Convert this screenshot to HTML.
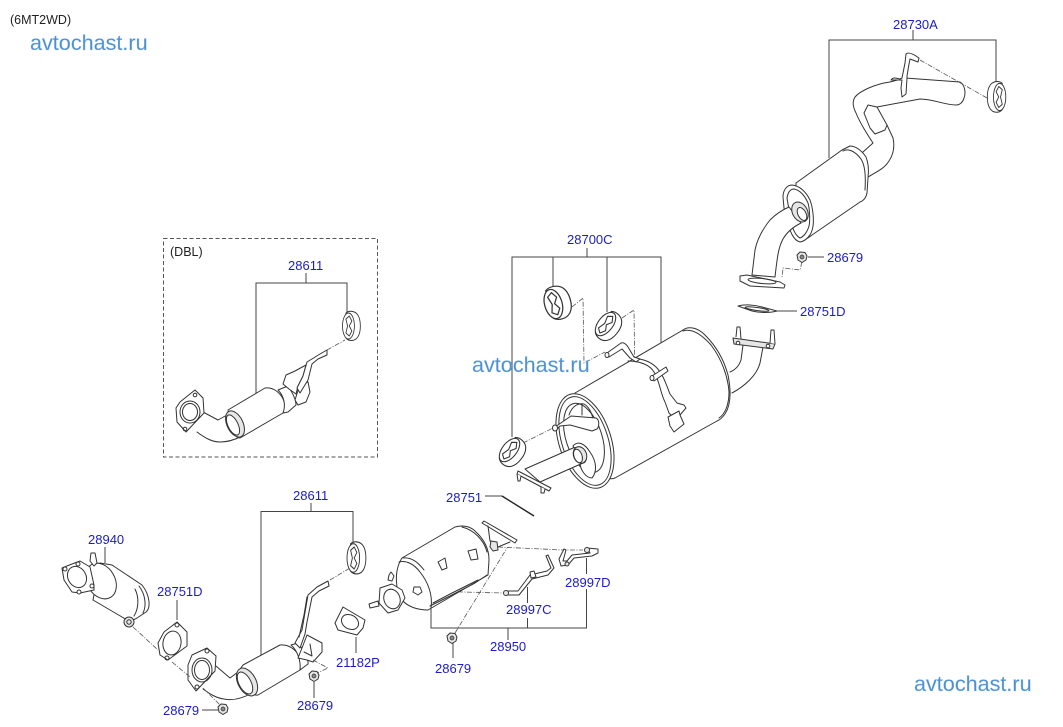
<!DOCTYPE html>
<html><head><meta charset="utf-8">
<style>
html,body{margin:0;padding:0;background:#fff}
svg{display:block;filter:blur(.35px)}
.l{fill:none;stroke:#333;stroke-width:1;stroke-linejoin:round;stroke-linecap:round}
.f{fill:#fff;stroke:#333;stroke-width:1;stroke-linejoin:round}
.n{fill:#fff;stroke:none}
.g{fill:#e6e6e6;stroke:#333;stroke-width:1;stroke-linejoin:round}
.d{fill:none;stroke:#555;stroke-width:.8;stroke-dasharray:5 1.500 1 1.500}
.r{fill:none;stroke:#444;stroke-width:1}
text{font-family:"Liberation Sans",sans-serif;font-size:13px;fill:#1c1cc4}
.k{fill:#222;font-size:12.500px}
.w{font-size:21.600px;fill:#4a8fd2;stroke:#9cc4e8;stroke-width:.3}
</style></head><body>
<svg width="1063" height="727" viewBox="0 0 1063 727" xmlns="http://www.w3.org/2000/svg">
<defs>
<g id="nut"><path class="g" d="M-5-2-2-5 3-4.500 5-1 4 3 0 5.500-4 3Z"/><circle r="2" fill="#888" stroke="#333" stroke-width=".7"/></g>
<g id="rub"><path class="f" d="M-6-13C-2-16 5-15 8-11 12-6 12 6 8 11 4 16-3 15-6 12Z"/><ellipse class="f" cx="-3" rx="7" ry="13"/><path class="l" d="M-6-7-2-10 1-5-2 0 1 5-2 10-6 7-4 0Z"/></g>
</defs>

<text class="k" x="10" y="24">(6MT2WD)</text>
<text class="w" x="30" y="50">avtochast.ru</text>

<!-- 28730A assembly -->
<text x="893" y="29">28730A</text>
<path class="r" d="M913 30V40M829 158V40H996V83"/>
<path class="d" d="M920 60 987 98"/>
<path class="l" d="M890 82C875 84 860 91 855 97 852 102 853 107 856 113 860 123 867 134 873 143L863 152"/>
<path class="l" d="M890 82 905 78 960 82C965 85 966 93 964 98 963 102 960 105 956 105 945 105 933 99 920 99L877 107"/>
<path class="f" d="M864 113 868 105 877 107 887 125 885 130 875 134 870 128Z"/>
<path class="l" d="M887 125 893 138C895 147 893 155 889 161 884 169 876 172 868 177"/>
<path class="f" d="M891 80C893 77 896 78 900 79L902 78 905 63 906 54C908 52 912 53 919 58L918 62 910 59 909 64 907 76 907 78 906 94 902 97 901 88 902 80Z"/>
<path class="f" d="M796 183 842 150 850 146C856 146 862 151 866 157 868 162 869 170 868 178L867 193C866 198 863 201 860 202L812 235C806 240 800 242 796 240Z"/>
<path class="l" d="M843 151C848 148 855 151 861 159 865 165 866 175 865 190"/>
<path class="f" d="M783 197C783 190 787 185 792 185 800 186 806 192 810 200 813 208 814 220 813 226 812 235 806 241 800 242 793 240 790 231 788 223L784 208Z"/>
<path class="f" d="M787 198C788 192 790 189 794 189 800 190 805 196 808 203 810 210 810 222 809 226 807 233 803 237 800 238 796 236 793 230 791 222Z"/>
<path class="f" d="M752 275 755 250C757 240 762 230 770 220 776 214 782 210 789 207L801 223C793 227 787 232 783 239 778 248 777 260 775 277Z"/>
<ellipse class="g" cx="800" cy="212" rx="7.500" ry="10.500" transform="rotate(-28 800 212)"/>
<ellipse class="f" cx="802" cy="214" rx="4" ry="7" transform="rotate(-28 802 214)"/>
<path class="f" d="M740 276 747 275 780 282 785 285 784 288 750 286 740 281Z"/>
<ellipse class="l" cx="762" cy="281" rx="14" ry="2.500" transform="rotate(6 762 281)"/>
<path class="d" d="M802 262 800 270 783 268 782 278"/>
<use href="#nut" x="802" y="257"/>
<path class="r" d="M808 257H824"/>
<text x="827" y="262">28679</text>
<path class="f" d="M738 306C745 304 755 305 762 307L777 311C770 313 760 313 752 311Z"/>
<ellipse class="l" cx="757" cy="309" rx="12" ry="1.500" transform="rotate(8 757 309)"/>
<path class="r" d="M777 311H797"/>
<text x="800" y="316">28751D</text>
<use href="#rub" transform="translate(997 97) scale(-.88 1.050)"/>

<!-- muffler 28700C -->
<text x="567" y="244">28700C</text>
<path class="r" d="M587 248V257M512 437V257H661V343M553 257V287M607 257V312"/>
<path class="d" d="M572 307 583 298 584 363 605 352M622 318 634 310 635 385 652 377M523 443 555 427"/>
<path class="f" d="M575 393 683 330C688 326 697 327 705 335 716 346 724 360 728 375 731 390 731 405 725 414 722 418 720 420 717 421L615 478C605 482 595 470 590 460Z"/>
<path class="l" d="M683 331C692 328 702 335 711 345 721 358 728 376 729 392 729 405 725 414 719 418"/>
<path class="l" d="M743 345 741 360C739 366 735 370 730 372M763 347 760 363C757 375 745 386 732 393"/>
<path class="g" d="M733 338 775 344 773 349 734 344Z"/>
<path class="f" d="M736 337 737 327H740L741 339M770 343 771 330H774L775 344"/>
<circle class="f" cx="738" cy="343" r="1.800"/><circle class="f" cx="768" cy="346" r="1.800"/>
<ellipse class="f" cx="585" cy="441" rx="26" ry="49" transform="rotate(-18 585 441)"/>
<ellipse class="l" cx="585" cy="441" rx="23" ry="46" transform="rotate(-18 585 441)"/>
<ellipse class="l" cx="584" cy="438" rx="18" ry="36" transform="rotate(-18 584 438)"/>
<path class="l" d="M569 415C572 406 578 403 584 404 589 407 592 413 593 420M582 404V415"/>
<path class="f" d="M555 427 571 416 596 418C600 420 599 427 597 429L592 431 570 425 560 426 556 430Z"/>
<ellipse class="f" cx="555" cy="428" rx="2.500" ry="3"/>
<path class="f" d="M573 446C578 440 585 444 590 452 597 462 597 472 592 478 586 478 580 470 580 462Z"/>
<path class="f" d="M525 469 573 448C580 446 585 450 586 456 587 460 585 463 583 463L540 482Z"/>
<ellipse class="g" cx="580" cy="455" rx="6.500" ry="8.500" transform="rotate(-20 580 455)"/>
<ellipse class="f" cx="578" cy="456" rx="4" ry="7" transform="rotate(-20 578 456)"/>
<path class="f" d="M518 471 551 488 549 491 517 474Z"/>
<path class="f" d="M517 474 518 481 520 481 521 476M541 487 541 493 544 493 545 489"/>
<path class="l" d="M630 358C640 358 650 361 656 367 663 374 666 384 670 394L677 403 684 405 686 408 680 415M628 361C640 361 650 365 654 372 660 382 660 392 665 402L669 413 673 417"/>
<path class="f" d="M668 417 679 411 680 415 684 424 674 432 670 426Z"/>
<path class="f" d="M607 353 621 343C624 342 626 344 628 347L634 357 640 359 636 362 630 358 622 349 609 357Z"/>
<ellipse class="f" cx="607" cy="355" rx="2" ry="2.500"/>
<path class="f" d="M652 376 666 367 668 371 654 381Z"/>
<ellipse class="f" cx="652" cy="378" rx="2" ry="2.500"/>
<use href="#rub" transform="translate(557 303) rotate(-16) scale(1.250 1.150)"/>
<use href="#rub" transform="translate(608 326) rotate(38) scale(1.050)"/>
<use href="#rub" transform="translate(512 452) rotate(38) scale(1.050)"/>
<text class="w" x="472" y="372">avtochast.ru</text>
<text x="446" y="502">28751</text>
<path class="r" d="M485 496H502"/>
<path d="M502 496 534 516" stroke="#222" stroke-width="1.400" fill="none"/>

<!-- DBL -->
<rect x="163.500" y="238.500" width="214" height="218.500" fill="none" stroke="#555" stroke-width="1" stroke-dasharray="4 2.500"/>
<text class="k" x="170" y="256">(DBL)</text>
<text x="288" y="270">28611</text>
<path class="r" d="M306 273V283M256 393V283H347V315"/>
<path class="d" d="M327 350 345 340"/>
<use href="#rub" transform="translate(351 326) scale(.85 1)"/>
<path class="n" d="M203 412 218 420 238 410 240 437 218 442 197 432Z"/>
<path class="l" d="M203 412 218 420 227 415M197 432C205 438 212 442 220 442 228 442 234 440 240 437"/>
<path class="f" d="M180 402 195 390 203 398 204 413 186 432 177 422 176 408Z"/>
<ellipse class="l" cx="190" cy="412" rx="10" ry="11"/>
<ellipse class="l" cx="190" cy="412" rx="7.500" ry="8.500"/>
<circle class="l" cx="195" cy="395" r="1.800"/><circle class="l" cx="185" cy="429" r="1.800"/>
<path class="f" d="M228 410 265 388C272 387 278 391 282 397 286 404 286 410 283 413L240 438C236 438 231 431 230 424Z"/>
<ellipse class="g" cx="235" cy="424" rx="8" ry="14" transform="rotate(-26 235 424)"/>
<ellipse class="f" cx="233" cy="425" rx="5" ry="11" transform="rotate(-26 233 425)"/>
<path class="f" d="M278 390 288 386C292 392 296 399 296 405L288 412 283 413C286 405 284 396 278 390Z"/>
<path class="f" d="M283 384 286 375 295 371 306 365 303 376 298 386 296 394 289 389Z"/>
<path class="f" d="M300 384 308 382 310 392 306 402 298 405 295 400Z"/>
<path class="f" d="M307 362 320 354 327 350 327 355 318 359 312 364 308 380 300 393 297 388 303 376Z"/>

<!-- lower exhaust -->
<text x="293" y="500">28611</text>
<path class="r" d="M311 503V511M261 655V511.500H353V543"/>
<path class="d" d="M330 580 350 568"/>
<use href="#rub" transform="translate(356 558) scale(.9 1.100)"/>
<path class="n" d="M216 666 230 678 243 665 258 695 222 700 200 690Z"/>
<path class="l" d="M216 666 230 678 238 672M203 689C210 694 216 698 224 699 233 701 243 698 252 693"/>
<path class="f" d="M192 655 207 648 216 656 215 671 196 691 188 680 188 665Z"/>
<ellipse class="l" cx="202" cy="670" rx="10" ry="12"/>
<ellipse class="l" cx="202" cy="670" rx="7.500" ry="9.500"/>
<circle class="l" cx="207" cy="651" r="2"/><circle class="l" cx="197" cy="687" r="2"/>
<path class="f" d="M238 672 243 665 280 645C289 644 296 650 300 657 303 663 302 668 300 670L258 695C252 696 247 690 245 684Z"/>
<ellipse class="g" cx="247" cy="682" rx="9" ry="15" transform="rotate(-28 247 682)"/>
<ellipse class="f" cx="245" cy="683" rx="6" ry="12" transform="rotate(-28 245 683)"/>
<path class="f" d="M291 645 298 643C303 649 309 660 308 664L300 670C301 662 298 651 291 645Z"/>
<path class="f" d="M307 635 322 643 322 652 313 662 307 660 298 658 302 648Z"/>
<path class="l" d="M304 652 312 656 310 644"/>
<path class="f" d="M295 643 302 630 308 595 317 587 328 581 329 586 319 591 312 597 307 622 305 634 300 648Z"/>
<path class="l" d="M299 637 304 615 307 597"/>
<path class="d" d="M313 660 328 668 317 673"/>
<use href="#nut" x="314" y="676"/>
<path class="r" d="M314 682V698"/>
<text x="297" y="710">28679</text>
<path class="f" d="M343 607 365 620 363 628 357 635 338 630 335 623Z"/>
<ellipse class="l" cx="350" cy="622" rx="9" ry="7" transform="rotate(30 350 622)"/>
<path class="r" d="M356 637V653"/>
<text x="336" y="667">21182P</text>
<path class="r" d="M105 547V563"/>
<text x="88" y="544">28940</text>
<path class="f" d="M100 563 112 565 142 585C150 595 151 608 146 612L137 618C133 621 126 620 122 617L93 600Z"/>
<path class="l" d="M139 586C145 594 147 605 143 613M135 589C139 597 139 608 134 616"/>
<ellipse class="f" cx="101" cy="581" rx="14" ry="19" transform="rotate(-30 101 581)"/>
<path class="f" d="M90 561 91 553H95L97 563 94 566Z"/>
<path class="f" d="M62 568 72 564 80 561 90 567 94 585 94 590 80 593 72 592 64 580Z"/>
<ellipse class="l" cx="77" cy="577" rx="9" ry="11" transform="rotate(-30 77 577)"/>
<circle class="f" cx="65" cy="569" r="2"/><circle class="f" cx="92" cy="586" r="2"/><circle class="f" cx="78" cy="564" r="2"/><circle class="f" cx="79" cy="592" r="2"/>
<circle class="g" cx="129" cy="622" r="5"/><circle class="l" cx="129" cy="622" r="2.200"/>
<path class="d" d="M133 627 158 650M172 662 190 677M203 688 222 707"/>
<path class="f" d="M177 622 187 632 187 646 168 660 160 655 158 643 164 632Z"/>
<ellipse class="l" cx="172" cy="643" rx="9" ry="12" transform="rotate(10 172 643)"/>
<circle class="l" cx="177" cy="625" r="2"/><circle class="l" cx="167" cy="658" r="2"/>
<path class="r" d="M177 600V620"/>
<text x="157" y="596">28751D</text>
<text x="163" y="715">28679</text>
<path class="r" d="M202 710H218"/>
<use href="#nut" x="223" y="709"/>

<!-- DPF 28950 -->
<path class="d" d="M498 547 563 550 583 550M422 591 503 593M455 633 507 548"/>
<path class="f" d="M402 558 455 527C462 525 470 526 475 531 484 539 489 548 489 560L488 575 428 610C418 610 408 607 402 600 395 590 394 570 402 558Z"/>
<path class="l" d="M399 562C406 560 414 564 420 572 428 582 433 595 431 608M403 558C411 557 418 562 424 570"/>
<path class="l" d="M462 527C474 530 484 540 487 552M430 606 450 596 475 583 487 575M433 603 452 593 478 580"/>
<path class="f" d="M482 523 484 521 517 540 515 543Z"/>
<path class="l" d="M488 526 490 541 498 547 510 542"/>
<path class="g" d="M491 541 497 542 498 550 493 551 490 547Z"/>
<path class="f" d="M414 587 420 587 422 592 418 595 413 592Z"/>
<path class="f" d="M389 575 391 572 394 576 392 581 388 580Z"/>
<path class="f" d="M438 562 445 558 447 568 442 570Z"/>
<path class="f" d="M468 551 476 549 478 559 471 560Z"/>
<path class="f" d="M380 588 392 584 402 590 405 598 398 610 388 613 379 603Z"/>
<ellipse class="l" cx="392" cy="599" rx="8" ry="10" transform="rotate(-20 392 599)"/>
<path class="f" d="M369 604 378 601 379 606 370 608Z"/>
<path class="f" d="M505 591 518 591 530 575 547 571 551 568 546 556 548 555 554 568 548 575 532 579 519 595 505 595Z"/>
<circle class="g" cx="506" cy="593" r="2.500"/>
<path class="f" d="M530 572 534 571 536 577 531 578Z"/>
<path class="f" d="M587 548 598 549 598 553 592 556 574 558 568 565 561 566 559 559 564 549 566 550 563 561 567 561 572 555 590 553Z"/>
<circle class="g" cx="587" cy="550" r="2.500"/><circle class="g" cx="567" cy="564" r="2"/>
<path class="r" d="M431 608V628H586.500V558M527.500 587V603M527.500 618V628M508 628V640M453 643V658"/>
<rect x="562" y="574" width="50" height="15" fill="#fff"/>
<text x="565" y="587">28997D</text>
<text x="506" y="614">28997C</text>
<text x="490" y="651">28950</text>
<use href="#nut" x="452" y="638"/>
<text x="435" y="673">28679</text>
<text class="w" x="914" y="691">avtochast.ru</text>
</svg>
</body></html>
